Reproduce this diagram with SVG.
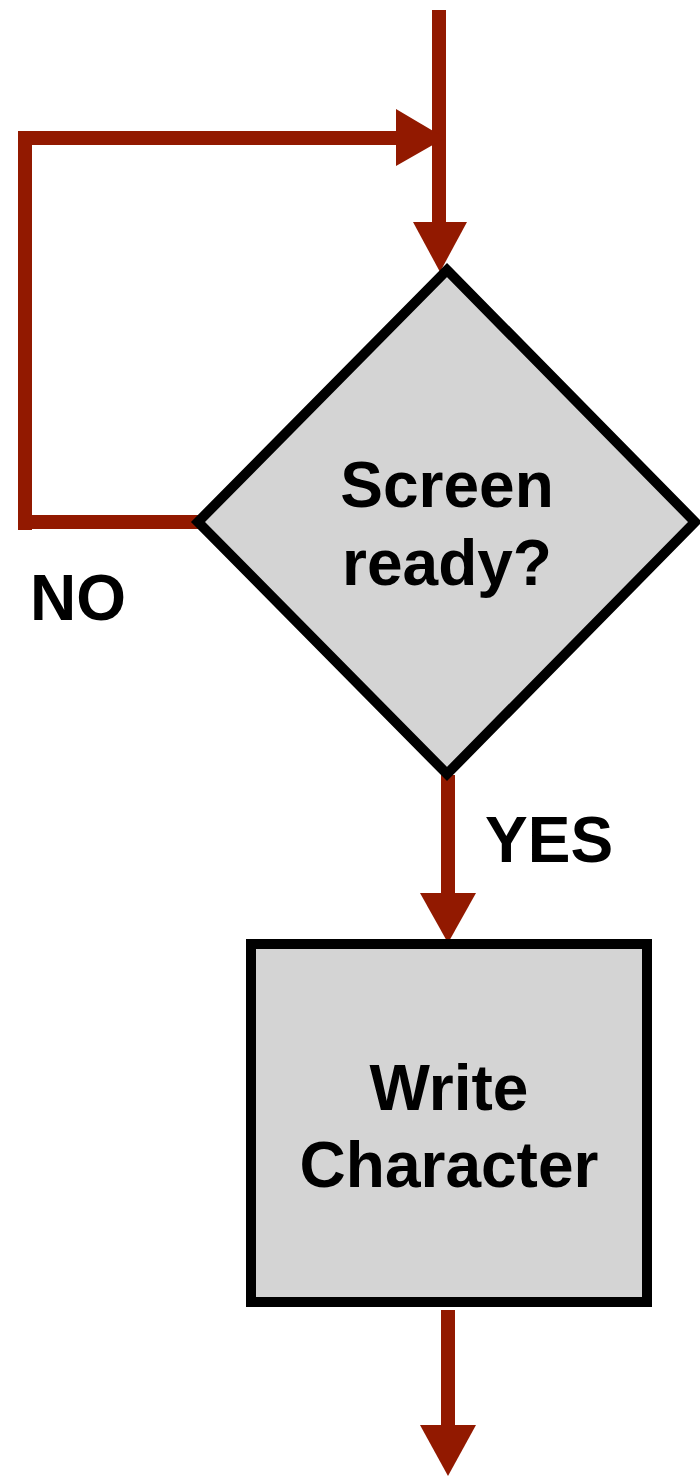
<svg xmlns="http://www.w3.org/2000/svg" width="700" height="1476" viewBox="0 0 700 1476">
<style>
.conn{fill:none;stroke:#921900;stroke-width:14;stroke-linecap:butt;stroke-linejoin:miter}
.head{fill:#921900}
.shape{fill:#d4d4d4;stroke:#000;stroke-width:10}
.lbl{font-family:"Liberation Sans",Arial,Helvetica,sans-serif;font-weight:bold;font-size:64px;fill:#000}
</style>
<rect width="700" height="1476" fill="#fff"/>
<g id="connectors">
<path class="conn" d="M439 10 V225"/>
<polygon class="head" points="413,222 467,222 440,272"/>
<path class="conn" d="M25 530 V138 H400"/>
<polygon class="head" points="396,109 396,166 445,138"/>
<path class="conn" d="M25 522 H198"/>
<path class="conn" d="M448 775 V896"/>
<polygon class="head" points="420,893 476,893 448,943"/>
<path class="conn" d="M448 1310 V1428"/>
<polygon class="head" points="420,1425 476,1425 448,1476"/>
</g>
<g id="decision">
<polygon class="shape" points="447,270 695,522 447,774 198,522"/>
<text class="lbl" x="447" y="507" text-anchor="middle">Screen</text>
<text class="lbl" x="447" y="585" text-anchor="middle">ready?</text>
</g>
<g id="process">
<rect class="shape" x="251" y="944" width="396" height="358"/>
<text class="lbl" x="449" y="1110" text-anchor="middle">Write</text>
<text class="lbl" x="449" y="1187" text-anchor="middle">Character</text>
</g>
<g id="labels">
<text class="lbl" x="30" y="620">NO</text>
<text class="lbl" x="485" y="862">YES</text>
</g>
</svg>
